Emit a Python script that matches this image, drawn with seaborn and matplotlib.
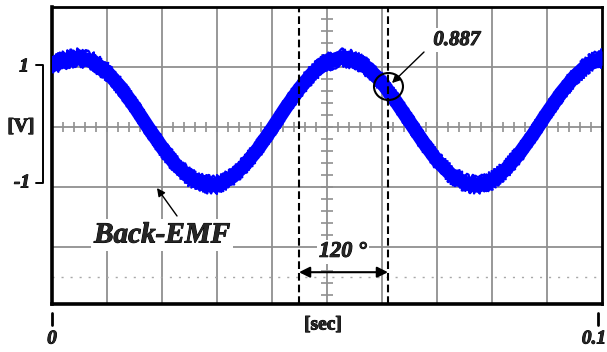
import numpy as np
import matplotlib
matplotlib.use("Agg")
import matplotlib.pyplot as plt
import matplotlib.patheffects as pe
import seaborn as sns
from matplotlib.lines import Line2D
from matplotlib.patches import Ellipse

# ---------------- data ----------------
time_ms = [0.0, 2.5, 5.0, 7.5, 10.0, 12.5, 15.0, 17.5, 20.0, 22.5,
           25.0, 27.5, 30.0, 32.5, 35.0, 37.5, 40.0, 42.5, 45.0, 47.5,
           50.0, 52.5, 55.0, 57.5, 60.0, 62.5, 65.0, 67.5, 70.0, 72.5,
           75.0, 77.5, 80.0, 82.5, 85.0, 87.5, 90.0, 92.5, 95.0, 97.5, 100.0]
emf_v = [1.04, 1.12, 1.16, 1.09, 0.92, 0.66, 0.34, -0.01, -0.34, -0.63,
         -0.84, -0.95, -0.96, -0.85, -0.64, -0.36, -0.03, 0.32, 0.64, 0.91,
         1.08, 1.16, 1.12, 0.98, 0.74, 0.43, 0.09, -0.25, -0.56, -0.79,
         -0.93, -0.97, -0.89, -0.71, -0.44, -0.12, 0.23, 0.56, 0.84, 1.05, 1.15]
x_tick_labels = ["0", "0.1"]
y_tick_labels = ["1", "-1"]
x_unit = "[sec]"
y_unit = "[V]"
series_label = "Back-EMF"
point_label = "0.887"
phase_label = "120 °"

# ---------------- style ----------------
sns.set_style("white")
plt.rcParams["font.family"] = ["Liberation Serif", "DejaVu Serif"]

W, H = 607, 352
fig = plt.figure(figsize=(W / 100, H / 100), dpi=100)
ax = fig.add_axes([52 / W, 1 - 304 / H, 550 / W, 297 / H])
ax.set_xlim(0, 0.1)
ax.set_ylim(-2.95, 2.0)

t = np.array(time_ms) / 1000.0
v = np.array(emf_v)

GRID = "#909090"
BLUE = "#0000ff"
HEAVY = [pe.withStroke(linewidth=0.7, foreground="black")]

# grid
ax.set_xticks(np.arange(0.01, 0.0951, 0.01))
ax.set_yticks([-2, -1, 0, 1])
ax.tick_params(length=0, labelbottom=False, labelleft=False)
ax.grid(True, color=GRID, lw=1.3)
ax.set_axisbelow(True)

# minor ticks along the centre lines
ax.vlines(np.arange(0.0, 0.1001, 0.002), -0.08, 0.08, color=GRID, lw=1.2, zorder=1)
ax.hlines(np.arange(-2.8, 1.99, 0.2), 0.05 - 0.0011, 0.05 + 0.0011, color=GRID, lw=1.2, zorder=1)

# dotted reference line
ax.axhline(-2.5, color="#a8a8a8", lw=1.0, ls=(0, (1.5, 5)), zorder=1)

# spines
for side, lw in (("left", 2.6), ("bottom", 2.6), ("top", 2.0), ("right", 2.0)):
    ax.spines[side].set_visible(True)
    ax.spines[side].set_color("black")
    ax.spines[side].set_linewidth(lw)

# noisy back-EMF trace
half = 0.12
ax.fill_between(t, v - half, v + half, color=BLUE, lw=0, zorder=3)
sns.lineplot(x=t, y=v, ax=ax, color=BLUE, lw=10, zorder=3, legend=False)
for edge in (v + half, v - half):
    sns.lineplot(x=t, y=edge, ax=ax, color=BLUE, lw=1.6, zorder=3, legend=False)
    ax.lines[-1].set_sketch_params(scale=2.2, length=0.8, randomness=3.0)

# dashed phase markers
t1, t2 = 0.04491, 0.06109
for tx in (t1, t2):
    ax.axvline(tx, color="black", lw=1.5, ls=(0, (3.7, 1.9)), zorder=4)

ax.annotate("", xy=(t2, -2.42), xytext=(t1, -2.42),
            arrowprops=dict(arrowstyle="<|-|>", color="black", lw=1.5,
                            mutation_scale=16, shrinkA=0, shrinkB=0), zorder=5)
ax.text(0.0529, -2.08, phase_label, fontsize=16, fontweight="bold", style="italic",
        ha="center", va="center", zorder=5, path_effects=HEAVY,
        bbox=dict(facecolor="white", edgecolor="none", pad=1.5))

# 0.887 marker
ax.add_patch(Ellipse((0.06118, 0.675), 0.00527, 0.45, fill=False,
                     edgecolor="black", lw=1.5, zorder=6))
ax.annotate("", xy=(0.06182, 0.733), xytext=(0.06764, 1.25),
            arrowprops=dict(arrowstyle="-|>", color="black", lw=1.0,
                            mutation_scale=12, shrinkA=0, shrinkB=0), zorder=6)
ax.text(0.07364, 1.45, point_label, fontsize=15, fontweight="bold", style="italic",
        ha="center", va="center", zorder=5, path_effects=HEAVY,
        bbox=dict(facecolor="white", edgecolor="none", pad=1.5))

# Back-EMF label
ax.text(0.0200, -1.80, series_label, fontsize=21, fontweight="bold", style="italic",
        ha="center", va="center", zorder=5, path_effects=HEAVY,
        bbox=dict(facecolor="white", edgecolor="none", pad=2))
ax.annotate("", xy=(0.01909, -1.017), xytext=(0.02273, -1.483),
            arrowprops=dict(arrowstyle="-|>", color="black", lw=1.0,
                            mutation_scale=12, shrinkA=0, shrinkB=0), zorder=6)

# ---------------- outside labels (figure pixel coordinates) ----------------
def fx(x):
    return x / W

def fy(y):
    return 1 - y / H

fig.text(fx(24), fy(67), y_tick_labels[0], fontsize=14, fontweight="bold",
         style="italic", ha="center", va="center", path_effects=HEAVY)
fig.text(fx(22), fy(183), y_tick_labels[1], fontsize=14, fontweight="bold",
         style="italic", ha="center", va="center", path_effects=HEAVY)
fig.text(fx(21), fy(127), y_unit, fontsize=14, fontweight="bold",
         ha="center", va="center", path_effects=HEAVY)
fig.add_artist(Line2D([fx(36), fx(43), fx(43), fx(36)], [fy(65), fy(65), fy(183), fy(183)],
                      color="black", lw=1.4))

fig.text(fx(52), fy(339), x_tick_labels[0], fontsize=14, fontweight="bold",
         style="italic", ha="center", va="center", path_effects=HEAVY)
fig.text(fx(594), fy(339), x_tick_labels[1], fontsize=14, fontweight="bold",
         style="italic", ha="center", va="center", path_effects=HEAVY)
for xp in (52, 598):
    fig.add_artist(Line2D([fx(xp), fx(xp)], [fy(313), fy(325)], color="black", lw=2))
fig.text(fx(323), fy(325), x_unit, fontsize=14, fontweight="bold",
         ha="center", va="center", path_effects=HEAVY)

fig.savefig("out.png", dpi=100)
